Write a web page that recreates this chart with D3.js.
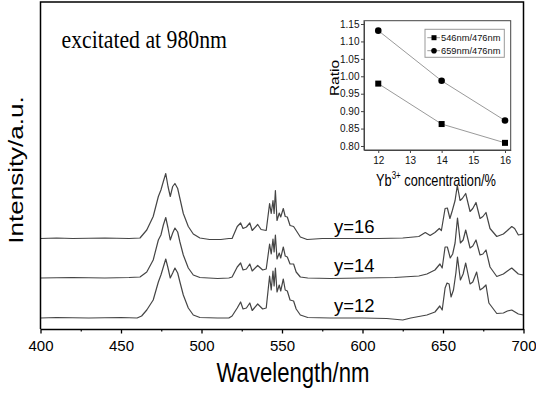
<!DOCTYPE html>
<html><head><meta charset="utf-8">
<script src="https://cdn.jsdelivr.net/npm/d3@7"></script>
<style>body{margin:0;background:#fff}svg{display:block}</style>
</head><body>
<svg id="c" width="536" height="396"></svg>
<script>
// ---------- data ----------
const sampleLabels = ["y=16", "y=14", "y=12"];
const traceOffsets = [90.5, 51, 11];  // a.u. vertical offset of each stacked spectrum
const xTicks = [400, 450, 500, 550, 600, 650, 700];
const spectrumY16 = [[400,0],[410,0.5],[420,0],[440,0.5],[455,0],[461.8,0.5],[466,8.5],[470,22],[473.2,42],[474.8,48.5],[476.3,57],[477.8,65],[479.2,52],[480.6,42],[482.1,52],[483.5,55],[485.2,50],[486.6,40],[488.7,25],[491.8,12],[494.9,4.5],[499,0.5],[505,-1],[512,-1],[517,0],[519,0],[522.2,12],[524.3,15.5],[525.8,10],[527.9,11.5],[530,15.5],[531.5,8],[534.9,14],[537,9],[540.2,8],[542.3,35],[543.3,25],[544.4,38],[545.1,25],[545.9,48],[546.9,18],[548.3,25.5],[549.2,21.5],[550.8,30],[552,22],[553.3,21.5],[555,13],[557.2,12],[558.8,8],[561.4,1.5],[565.6,-1],[575,0],[590,0],[610,0],[625,0.5],[635,2],[639,6],[642,3],[645,6],[647.7,10],[649,8],[651.3,30],[652.7,30.5],[654.3,20],[655.8,28],[657.5,38],[658.9,53],[660.6,38],[662,40],[664.1,45],[666.8,27],[668.5,30],[670.5,36],[673,20],[674.8,22],[676.7,26],[679.2,10],[683.4,2],[687.5,4.5],[690,8],[692.7,12],[694.5,10],[696.8,3.5],[699.9,4.5]];
const spectrumY14 = [[400,0],[420,0.5],[440,0],[455,0.5],[461.8,1],[466,6],[470,18],[473.2,38],[474.8,43],[476.3,53],[477.8,60.5],[479.2,50],[480.6,38],[482.1,45],[483.5,50],[485.2,46],[486.6,36],[488.7,23],[491.8,10],[494.9,3],[499,0.5],[510,-0.5],[517,0],[519,1],[522.2,11],[524.3,15],[525.8,8],[527.9,9],[530,14],[531.5,7],[534.9,12.5],[538,8],[540.2,9],[542.3,34],[543.3,24],[544.4,39],[545.1,26],[545.9,43],[546.9,19],[548.3,25],[549.2,20],[550.8,31],[552,22],[553.3,21],[555,14],[557.2,14],[558.8,6],[561.4,1],[566,0],[580,-0.5],[600,0],[620,0.5],[635,2],[640,4],[645,8],[648.1,14],[649.5,10],[651.3,31],[652.7,31],[654.5,20],[656,24],[657.5,35],[659,60],[660.8,35],[662.5,38],[664.1,48],[666.8,30],[668.5,32],[670.5,38],[673,23],[674.8,24],[676.7,28],[679.2,11],[683.4,1.5],[687.5,4],[690,7],[692.7,10],[696.8,4],[699.9,3]];
const spectrumY12 = [[400,0],[410,0.5],[430,0],[450,0.5],[460,0],[462.8,2],[466,8],[470,18],[473.2,36],[474.8,43],[476.3,51],[477.8,59],[479.2,50],[480.6,40],[482.1,45],[483.5,50],[485.2,45],[486.6,36],[488.7,23],[491.8,10],[494.9,3],[499,0.5],[510,0],[517,0],[519,2],[522.2,10],[524.3,16],[525.8,9],[527.9,10],[530,15],[531.5,7.5],[534.9,14],[538,9],[540.2,10],[542.3,42],[543.3,28],[544.4,47],[545.1,32],[545.9,50],[546.9,26],[548.3,33],[549.2,27],[550.8,39],[552,28],[553.3,27],[555,18],[557.2,17],[558.8,9],[561.4,3],[566,0.5],[580,0],[600,0],[615,-0.5],[625,-2],[630,0],[640,3],[645,6],[648,12],[649.5,8],[651.3,30],[652.5,35],[653.8,34],[655,21],[656.5,28],[658,45],[659,61],[660.8,38],[662.5,44],[664.1,55],[666.8,34],[668.5,36],[670.9,46],[673,28],[674.8,30],[676.7,33],[678.5,15],[683.4,4.5],[687.5,5],[690,7],[692.7,8],[696.8,4],[699.9,3]];
const spectra = [spectrumY16, spectrumY14, spectrumY12];

const concentration = [12, 14, 16];
const ratio546 = [0.979, 0.863, 0.809];
const ratio659 = [1.131, 0.987, 0.873];
const insetXTicks = [12, 13, 14, 15, 16];
const insetYTicks = [0.80, 0.85, 0.90, 0.95, 1.00, 1.05, 1.10, 1.15];
const legendLabels = ["546nm/476nm", "659nm/476nm"];

// ---------- main chart ----------
const svg = d3.select("#c");
const SANS = "'Liberation Sans', Arial, sans-serif";
const L = 40.5, R = 523.5, T = 2, B = 329;
const x = d3.scaleLinear().domain([400, 700]).range([L, R]);
const y = d3.scaleLinear().domain([0, 327]).range([B, T]);

const line = d3.line().x(d => x(d[0])).y(d => y(d[1]));
spectra.forEach((s, i) => {
  svg.append("path")
    .attr("d", line(s.map(p => [p[0], p[1] + traceOffsets[i]])))
    .attr("fill", "none").attr("stroke", "#454545").attr("stroke-width", 1.2).attr("stroke-linejoin", "round");
});

// frame
svg.append("path").attr("d", `M${L},${B}V${T}H${R}V${B}`).attr("fill", "none").attr("stroke", "#000").attr("stroke-width", 1.5);

// bottom axis
const minor = svg.append("g").attr("transform", `translate(0,${B})`)
  .call(d3.axisBottom(x).tickValues(d3.range(425, 700, 50)).tickSize(2.5).tickSizeOuter(0).tickFormat(""));
minor.select(".domain").remove();
minor.selectAll("line").attr("stroke-width", 1.2);
const ax = svg.append("g").attr("transform", `translate(0,${B})`)
  .call(d3.axisBottom(x).tickValues(xTicks).tickSize(4.5).tickSizeOuter(0).tickPadding(7));
ax.select(".domain").attr("stroke-width", 1.5);
ax.selectAll("line").attr("stroke-width", 1.3);
ax.selectAll("text").attr("font-family", SANS).attr("font-size", 15).attr("fill", "#000");

// axis titles
svg.append("text").text("Wavelength/nm").attr("font-family", SANS).attr("font-size", 27)
  .attr("text-anchor", "middle").attr("transform", `translate(293,382) scale(0.82,1)`);
svg.append("text").text("Intensity/a.u.").attr("font-family", SANS).attr("font-size", 26)
  .attr("text-anchor", "middle").attr("transform", `translate(23,170) scale(0.8,1) rotate(-90)`);

svg.append("text").text("excitated at 980nm").attr("font-family", "'Liberation Serif', 'Times New Roman', serif")
  .attr("font-size", 25).attr("transform", `translate(61.5,48) scale(0.87,1)`);

// sample labels
sampleLabels.forEach((t, i) => {
  svg.append("text").text(t).attr("font-family", SANS).attr("font-size", 18.5)
    .attr("x", x(582.3)).attr("y", y(traceOffsets[i]) - 6);
});

// ---------- inset ----------
const iL = 364, iR = 510.7, iT = 20.7, iB = 150;
const ix = d3.scaleLinear().domain([11.55, 16.18]).range([iL, iR]);
const iy = d3.scaleLinear().domain([0.7885, 1.1595]).range([iB, iT]);
const g = svg.append("g");
g.append("rect").attr("x", iL).attr("y", iT).attr("width", iR - iL).attr("height", iB - iT)
  .attr("fill", "#fff").attr("stroke", "#444").attr("stroke-width", 1);

const ixa = g.append("g").attr("transform", `translate(0,${iB})`)
  .call(d3.axisBottom(ix).tickValues(insetXTicks).tickSize(3).tickSizeOuter(0).tickPadding(4).tickFormat(d3.format("d")));
const iya = g.append("g").attr("transform", `translate(${iL},0)`)
  .call(d3.axisLeft(iy).tickValues(insetYTicks).tickSize(3).tickSizeOuter(0).tickPadding(1.5).tickFormat(d3.format(".2f")));
[ixa, iya].forEach(a => {
  a.select(".domain").attr("stroke", "#444");
  a.selectAll("line").attr("stroke", "#444");
  a.selectAll("text").attr("font-family", SANS).attr("font-size", 10).attr("fill", "#111");
});

const series = [ratio546, ratio659];
const iline = d3.line().x(d => ix(d[0])).y(d => iy(d[1]));
series.forEach((s, k) => {
  const pts = concentration.map((c, j) => [c, s[j]]);
  g.append("path").attr("d", iline(pts)).attr("fill", "none").attr("stroke", "#9a9a9a").attr("stroke-width", 1);
  pts.forEach(p => {
    if (k === 0) g.append("rect").attr("x", ix(p[0]) - 3).attr("y", iy(p[1]) - 3).attr("width", 6).attr("height", 6).attr("fill", "#000");
    else g.append("circle").attr("cx", ix(p[0])).attr("cy", iy(p[1])).attr("r", 3.3).attr("fill", "#000");
  });
});

// legend
const lg = g.append("g");
lg.append("rect").attr("x", 425).attr("y", 29.3).attr("width", 79.3).attr("height", 28).attr("fill", "#fff").attr("stroke", "#999").attr("stroke-width", 1);
legendLabels.forEach((t, k) => {
  const yy = 37.7 + k * 13;
  lg.append("line").attr("x1", 427.3).attr("x2", 440).attr("y1", yy).attr("y2", yy).attr("stroke", "#9a9a9a");
  if (k === 0) lg.append("rect").attr("x", 431.5).attr("y", yy - 2.5).attr("width", 5).attr("height", 5).attr("fill", "#000");
  else lg.append("circle").attr("cx", 434).attr("cy", yy).attr("r", 2.8).attr("fill", "#000");
  lg.append("text").text(t).attr("font-family", SANS).attr("font-size", 9.5).attr("fill", "#111")
    .attr("transform", `translate(441,${yy + 3.4}) scale(0.98,1)`);
});

// inset titles
g.append("text").attr("font-family", SANS).attr("font-size", 15.5).attr("text-anchor", "middle")
  .attr("transform", `translate(338.5,78) scale(0.88,1) rotate(-90)`).text("Ratio");
const xt = g.append("text").attr("font-family", SANS).attr("font-size", 16).attr("text-anchor", "middle")
  .attr("transform", `translate(436,185.5) scale(0.8,1)`);
xt.append("tspan").text("Yb");
xt.append("tspan").text("3+").attr("font-size", 10).attr("dy", -7);
xt.append("tspan").text(" concentration/%").attr("dy", 7);
</script>
</body></html>
